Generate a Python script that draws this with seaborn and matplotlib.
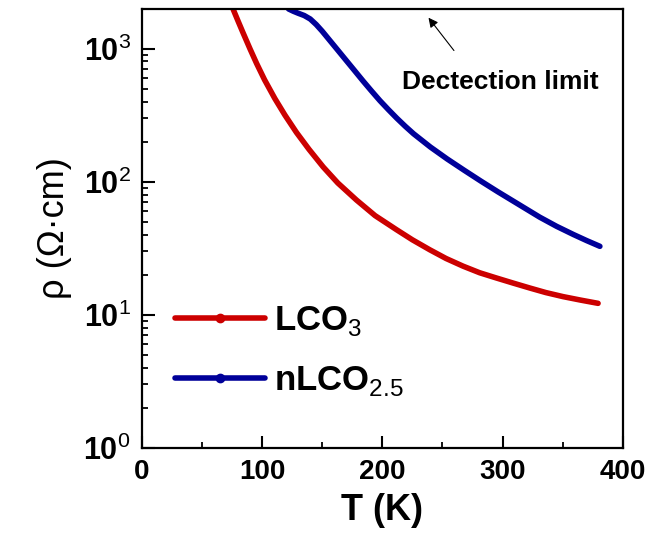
"""
Resistividad vs temperatura para LCO3 y nLCO2.5 (escala log)
"""
import matplotlib
matplotlib.use('Agg')
import matplotlib.pyplot as plt
from matplotlib.lines import Line2D
from matplotlib.ticker import LogLocator, MultipleLocator, NullFormatter
import seaborn as sns
import pandas as pd

# Datos
t_lco3 = [76, 80, 84, 90, 95.4, 102, 110.6, 119, 128.6, 139, 150.8, 163, 178.5, 194,
          211.8, 225, 239.5, 253, 267.2, 281, 295, 309, 322.7, 336, 350.4, 365, 379.5]
rho_lco3 = [1963, 1607, 1321, 991, 773, 583, 421, 316, 234, 175, 129, 97.7, 72.8, 55.6,
            43.6, 36.6, 30.8, 26.5, 23.2, 20.7, 18.9, 17.3, 15.9, 14.7, 13.7, 12.9, 12.2]

t_nlco = [122, 126, 130, 135, 140, 145, 150, 156, 163, 170, 177, 184, 191, 198,
          205, 212, 219, 226, 240, 254, 268, 282, 296, 310, 331, 345, 359, 370, 381]
rho_nlco = [1982, 1905, 1841, 1770, 1667, 1514, 1349, 1159, 971, 813, 681, 570, 480, 406,
            348, 300, 261, 229, 182, 148, 122, 101, 84.1, 70.5, 54.1, 46.2, 40.1, 36.1, 32.7]

labels = ['LCO$_{3}$', 'nLCO$_{2.5}$']
colores = ['#cc0000', '#000099']

df = pd.concat([
    pd.DataFrame({'T': t_lco3, 'rho': rho_lco3, 'muestra': labels[0]}),
    pd.DataFrame({'T': t_nlco, 'rho': rho_nlco, 'muestra': labels[1]}),
])

sns.set_style('ticks')
plt.rcParams['font.family'] = ['Liberation Sans', 'DejaVu Sans']
plt.rcParams['mathtext.fontset'] = 'custom'
plt.rcParams['mathtext.rm'] = 'Liberation Sans'
plt.rcParams['mathtext.bf'] = 'Liberation Sans:bold'
for k in ['text.color', 'axes.labelcolor', 'xtick.color', 'ytick.color', 'axes.edgecolor']:
    plt.rcParams[k] = 'black'

fig = plt.figure(figsize=(6.48, 5.47), dpi=100)
ax = fig.add_axes([0.219, 0.181, 0.742, 0.8025])

sns.lineplot(data=df, x='T', y='rho', hue='muestra', palette=colores,
             linewidth=4, legend=False, ax=ax, sort=False)
for ln in ax.lines:
    ln.set_solid_capstyle('round')
    ln.set_solid_joinstyle('round')

ax.set_yscale('log')
ax.set_xlim(0, 400)

ax.xaxis.set_minor_locator(MultipleLocator(50))
ax.yaxis.set_minor_locator(LogLocator(base=10, subs=range(2, 10), numticks=20))
ax.yaxis.set_minor_formatter(NullFormatter())

ax.set_xticks([0, 100, 200, 300, 400])
ax.set_xticklabels(['0', '100', '200', '300', '400'], fontsize=20, fontweight='bold')
ax.set_yticks([1, 10, 100, 1000])
ax.set_yticklabels([r'$\mathbf{10}^{0}$', r'$\mathbf{10}^{1}$',
                    r'$\mathbf{10}^{2}$', r'$\mathbf{10}^{3}$'], fontsize=22)
ax.set_ylim(1, 1980)

ax.tick_params(which='major', direction='in', length=9, width=1.5, color='black', pad=8)
ax.tick_params(which='minor', direction='in', length=4.5, width=1.3, color='black')
ax.tick_params(axis='x', which='both', top=False)
ax.tick_params(axis='y', which='both', right=False)

for s in ax.spines.values():
    s.set_linewidth(1.6)
    s.set_color('black')

ax.set_xlabel('T (K)', fontsize=26, fontweight='bold', labelpad=6)
ax.set_ylabel('ρ (Ω·cm)', fontsize=26, labelpad=8)

# anotación del límite de detección
ax.annotate('', xy=(237, 1770), xytext=(261, 930),
            arrowprops=dict(arrowstyle='-|>', color='black', lw=0.8, mutation_scale=14))
ax.text(298, 565, 'Dectection limit', fontsize=19, fontweight='bold',
        ha='center', va='center')

handles = [Line2D([0], [0], color=c, lw=4, marker='o', markersize=6) for c in colores]
ax.legend(handles, labels, loc='center left', bbox_to_anchor=(0.069, 0.221),
          frameon=False, prop={'weight': 'bold', 'size': 25},
          handlelength=2.6, handletextpad=0.25, labelspacing=0.75,
          borderpad=0, borderaxespad=0)

fig.savefig('out.png', dpi=100)
